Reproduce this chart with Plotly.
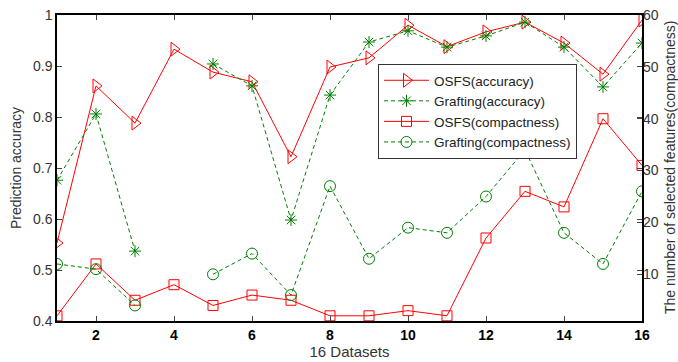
import plotly.graph_objects as go

datasets = list(range(1, 17))
osfs_acc = [0.553, 0.861, 0.788, 0.933, 0.888, 0.869, 0.722, 0.898, 0.916, 0.980, 0.938, 0.967, 0.986, 0.945, 0.884, 0.990]
graft_acc = [0.676, 0.806, 0.537, None, 0.904, 0.861, 0.598, 0.843, 0.947, 0.969, 0.937, 0.959, 0.986, 0.937, 0.859, 0.945]
osfs_comp = [2, 12, 5, 8, 4, 6, 5, 2, 2, 3, 2, 17, 26, 23, 40, 31]
graft_comp = [12, 11, 4, None, 10, 14, 6, 27, 13, 19, 18, 25, 34, 18, 12, 26]

x_ticks = [2, 4, 6, 8, 10, 12, 14, 16]
left_ticks = [0.4, 0.5, 0.6, 0.7, 0.8, 0.9, 1.0]
left_labels = ["0.4", "0.5", "0.6", "0.7", "0.8", "0.9", "1"]
right_ticks = [10, 20, 30, 40, 50, 60]

RED = "#ff0000"
GREEN = "#008000"
FONT = "Liberation Sans"
TXT = "#333333"
DASH = "4px,3px"

fig = go.Figure()
fig.add_trace(go.Scatter(
    x=datasets, y=osfs_acc, name="OSFS(accuracy)", mode="lines+markers",
    line=dict(color=RED, width=1),
    marker=dict(symbol="triangle-right-open", size=12, color=RED, line=dict(width=1, color=RED)),
))
fig.add_trace(go.Scatter(
    x=datasets, y=graft_acc, name="Grafting(accuracy)", mode="lines+markers",
    line=dict(color=GREEN, width=1, dash=DASH),
    marker=dict(symbol="asterisk-open", size=10, color=GREEN, line=dict(width=1, color=GREEN)),
))
fig.add_trace(go.Scatter(
    x=datasets, y=osfs_comp, name="OSFS(compactness)", mode="lines+markers", yaxis="y2",
    line=dict(color=RED, width=1),
    marker=dict(symbol="square-open", size=10, color=RED, line=dict(width=1, color=RED)),
))
fig.add_trace(go.Scatter(
    x=datasets, y=graft_comp, name="Grafting(compactness)", mode="lines+markers", yaxis="y2",
    line=dict(color=GREEN, width=1, dash=DASH),
    marker=dict(symbol="circle-open", size=11, color=GREEN, line=dict(width=1, color=GREEN)),
))

fig.update_layout(
    width=678, height=362,
    margin=dict(l=57, r=36, t=15, b=41, autoexpand=False),
    paper_bgcolor="white", plot_bgcolor="white",
    font=dict(family=FONT, size=14, color=TXT),
    showlegend=True,
    legend=dict(
        x=(378 - 57) / 585, y=(321 - 64) / 306, xanchor="left", yanchor="top",
        bordercolor="#333", borderwidth=1, bgcolor="white",
        font=dict(family=FONT, size=13.5, color="#222"),
        tracegroupgap=0, itemwidth=45,
    ),
    xaxis=dict(
        range=[1, 16], tickvals=x_ticks, ticks="inside", ticklen=5,
        showline=True, linecolor="black", linewidth=1.5, mirror="ticks",
        showgrid=False, zeroline=False, automargin=False,
        tickfont=dict(family=FONT, size=14, color="black", weight="bold"),
        title=dict(text="16 Datasets", font=dict(family=FONT, size=15, color=TXT), standoff=2),
    ),
    yaxis=dict(
        range=[0.4, 1.0], tickvals=left_ticks, ticktext=left_labels,
        ticks="inside", ticklen=5,
        showline=True, linecolor="black", linewidth=1.5, mirror="ticks",
        showgrid=False, zeroline=False, automargin=False,
        tickfont=dict(family=FONT, size=14, color=TXT),
        title=dict(text="Prediction accuracy", font=dict(family=FONT, size=14, color=TXT), standoff=8),
    ),
    yaxis2=dict(
        range=[1, 60], tickvals=right_ticks, overlaying="y", side="right",
        ticks="inside", ticklen=5, showline=False,
        showgrid=False, zeroline=False, automargin=False,
        tickfont=dict(family=FONT, size=14, color=TXT),
    ),
    annotations=[dict(
        text="The number of selected features(compactness)",
        xref="paper", yref="paper", x=(670 - 57) / 585, y=0.5,
        xanchor="center", yanchor="middle", textangle=-90, showarrow=False,
        font=dict(family=FONT, size=14, color=TXT),
    )],
)

fig.write_html(
    "out.html",
    config={"displayModeBar": False},
    post_script="document.body.style.margin='0';document.body.style.overflow='hidden';",
)
